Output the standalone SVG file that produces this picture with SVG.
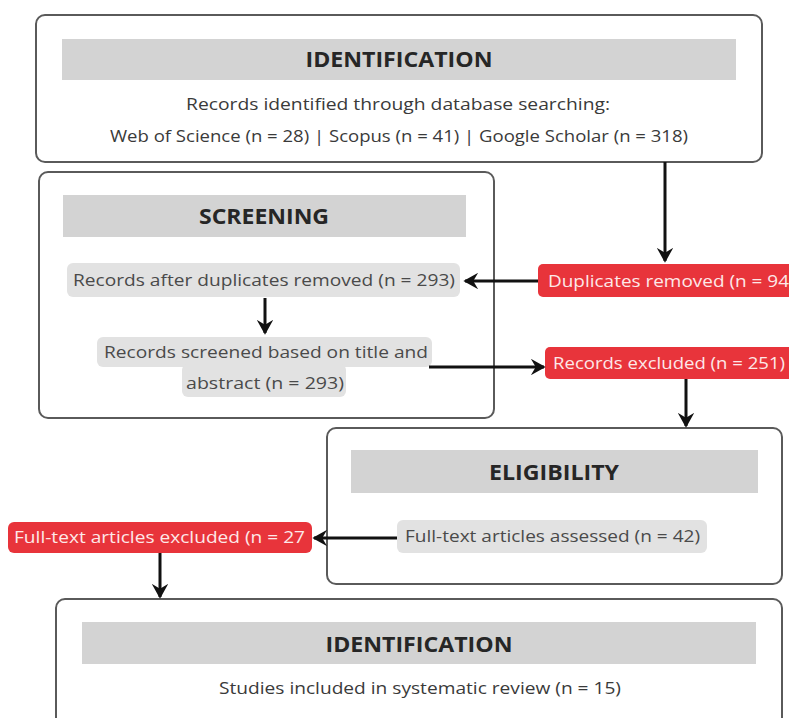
<svg xmlns="http://www.w3.org/2000/svg" width="789" height="718" viewBox="0 0 789 718">
<defs>
<style>
.box{fill:#fff;stroke:#5a5a5a;stroke-width:2}
.hdr{fill:#d3d3d3}
.pill{fill:#e2e2e2}
.red{fill:#e8343b}
.ht{font-family:"Open Sans","Liberation Sans",sans-serif;font-weight:bold;font-size:21px;fill:#262626;text-anchor:middle}
.bt{font-family:"Open Sans","Liberation Sans",sans-serif;font-size:16px;fill:#3a3a3a}
.pt{font-family:"Open Sans","Liberation Sans",sans-serif;font-size:17px;fill:#4a4a4a}
.wt{font-family:"Open Sans","Liberation Sans",sans-serif;font-size:17px;fill:#fde8e8}
.con{stroke:#111;stroke-width:3;fill:none;marker-end:url(#ah)}
</style>
<marker id="ah" viewBox="0 0 10 10" refX="8" refY="5" markerWidth="5.5" markerHeight="5.5" orient="auto" markerUnits="strokeWidth">
<path d="M0,0 L9,5 L0,10 L3,5 Z" fill="#111"/>
</marker>
</defs>
<rect width="789" height="718" fill="#fff"/>

<g id="identification">
<rect class="box" x="36" y="15" width="726" height="147" rx="9"/>
<rect class="hdr" x="62" y="39" width="674" height="41"/>
<text class="ht" x="399" y="67" textLength="187" lengthAdjust="spacingAndGlyphs">IDENTIFICATION</text>
<text class="bt" x="186" y="110" textLength="424" lengthAdjust="spacingAndGlyphs">Records identified through database searching:</text>
<text class="bt" x="110" y="142" textLength="578" lengthAdjust="spacingAndGlyphs">Web of Science (n = 28) | Scopus (n = 41) | Google Scholar (n = 318)</text>
</g>

<g id="screening">
<rect class="box" x="39" y="172" width="455" height="246" rx="9"/>
<rect class="hdr" x="63" y="195" width="403" height="42"/>
<text class="ht" x="264" y="224" textLength="130" lengthAdjust="spacingAndGlyphs">SCREENING</text>
</g>

<g id="after-duplicates">
<rect class="pill" x="67" y="263" width="393" height="34" rx="6"/>
<text class="pt" x="73" y="286" textLength="382" lengthAdjust="spacingAndGlyphs">Records after duplicates removed (n = 293)</text>
</g>

<g id="screened">
<rect class="pill" x="97" y="337" width="335" height="30" rx="6"/>
<rect class="pill" x="182" y="364" width="164" height="33" rx="6"/>
<text class="pt" x="104" y="358" textLength="324" lengthAdjust="spacingAndGlyphs">Records screened based on title and</text>
<text class="pt" x="186" y="389" textLength="158" lengthAdjust="spacingAndGlyphs">abstract (n = 293)</text>
</g>

<g id="duplicates-removed">
<rect class="red" x="538" y="264" width="260" height="33" rx="5"/>
<text class="wt" x="548" y="287" textLength="241" lengthAdjust="spacingAndGlyphs">Duplicates removed (n = 94</text>
</g>

<g id="records-excluded">
<rect class="red" x="545" y="347" width="250" height="32" rx="5"/>
<text class="wt" x="553" y="369" textLength="232" lengthAdjust="spacingAndGlyphs">Records excluded (n = 251)</text>
</g>

<g id="eligibility">
<rect class="box" x="327" y="428" width="455" height="156" rx="9"/>
<rect class="hdr" x="351" y="450" width="407" height="43"/>
<text class="ht" x="554" y="480" textLength="130" lengthAdjust="spacingAndGlyphs">ELIGIBILITY</text>
</g>

<g id="assessed">
<rect class="pill" x="397" y="520" width="310" height="33" rx="6"/>
<text class="pt" x="405" y="542" textLength="295" lengthAdjust="spacingAndGlyphs">Full-text articles assessed (n = 42)</text>
</g>

<g id="fulltext-excluded">
<rect class="red" x="8" y="522" width="304" height="31" rx="6"/>
<text class="wt" x="14" y="543" textLength="291" lengthAdjust="spacingAndGlyphs">Full-text articles excluded (n = 27</text>
</g>

<g id="included">
<rect class="box" x="56" y="599" width="726" height="140" rx="9"/>
<rect class="hdr" x="82" y="622" width="674" height="42"/>
<text class="ht" x="419" y="652" textLength="187" lengthAdjust="spacingAndGlyphs">IDENTIFICATION</text>
<text class="bt" x="219" y="694" textLength="402" lengthAdjust="spacingAndGlyphs">Studies included in systematic review (n = 15)</text>
</g>

<g id="connectors">
<line class="con" x1="665" y1="162" x2="665" y2="261"/>
<line class="con" x1="538" y1="281" x2="465" y2="281"/>
<line class="con" x1="265" y1="298" x2="265" y2="333"/>
<line class="con" x1="429" y1="367" x2="544" y2="367"/>
<line class="con" x1="686" y1="379" x2="686" y2="426"/>
<line class="con" x1="397" y1="538" x2="314" y2="538"/>
<line class="con" x1="160" y1="553" x2="160" y2="597"/>
</g>
</svg>
